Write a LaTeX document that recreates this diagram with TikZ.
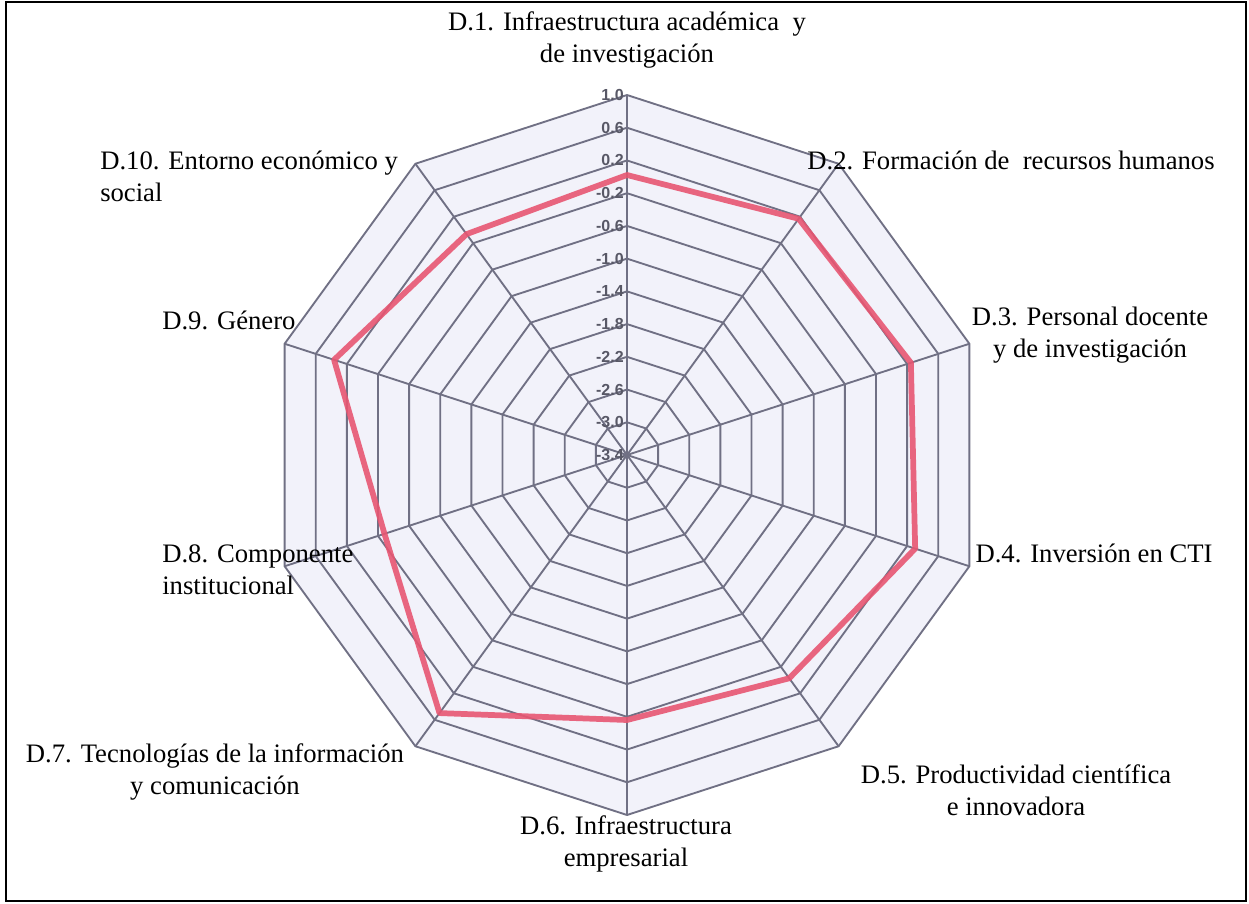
\documentclass[tikz,border=0pt]{standalone}
\usepackage{fontspec}
\setmainfont{Liberation Serif}
\newfontfamily\ticksfont{Liberation Sans}
\definecolor{gridline}{RGB}{112,112,132}
\definecolor{gridfill}{RGB}{242,242,250}
\definecolor{trace}{RGB}{232,86,114}
\definecolor{ticktext}{RGB}{88,88,102}
\begin{document}
\begin{tikzpicture}[x=0.75pt,y=-0.75pt,
  lab/.style={inner sep=0pt, font=\fontsize{20}{24}\selectfont},
  ring/.style={draw=gridline, line width=1.4pt, line join=miter},
  spoke/.style={draw=gridline, line width=1.4pt},
  ticklab/.style={inner sep=0pt, anchor=east, text=ticktext, font=\ticksfont\bfseries\fontsize{12}{14}\selectfont},
  series/.style={draw=trace, line width=4.3pt, line join=round, draw opacity=0.9}]
\useasboundingbox (0,0) rectangle (1249,903);
% outer frame
\draw[line width=1.5pt] (6,2) rectangle (1246,901);
\coordinate (O) at (627,455);
\begin{scope}[shift={(O)}, x=0.75pt, y=0.75pt]
  % plot area
  \fill[gridfill] (90:360) -- (54:360) -- (18:360) -- (-18:360) -- (-54:360) -- (-90:360)
     -- (-126:360) -- (-162:360) -- (162:360) -- (126:360) -- cycle;
  % concentric decagons
  \foreach \k in {1,...,11}{
    \pgfmathsetmacro\rr{\k*360/11}
    \draw[ring] (90:\rr) -- (54:\rr) -- (18:\rr) -- (-18:\rr) -- (-54:\rr) -- (-90:\rr)
      -- (-126:\rr) -- (-162:\rr) -- (162:\rr) -- (126:\rr) -- cycle;
  }
  % radial axes
  \foreach \a in {90,54,18,-18,-54,-90,-126,-162,162,126}{
    \draw[spoke] (0,0) -- (\a:360);
  }
  % axis values
  \foreach \k/\t in {0/-3.4,1/-3.0,2/-2.6,3/-2.2,4/-1.8,5/-1.4,6/-1.0,7/-0.6,8/-0.2,9/0.2,10/0.6,11/1.0}{
    \pgfmathsetmacro\yy{\k*360/11}
    \node[ticklab] (tick\k) at (-3,\yy) {\t};
  }
  % scores
  \draw[series] (90:280) -- (54:292) -- (18:298.5) -- (-18:303) -- (-54:276) -- (-90:265)
    -- (-126:319) -- (-162:255) -- (162:308) -- (126:273) -- cycle;
\end{scope}
% dimension names
\node[lab, align=center] (d1) at (627,40) {D.1. Infraestructura académica \ y\\de investigación};
\node[lab] (d2) at (1011,160) {D.2. Formación de \ recursos humanos};
\node[lab, align=center] (d3) at (1090,335) {D.3. Personal docente\\y de investigación};
\node[lab] (d4) at (1094,553) {D.4. Inversión en CTI};
\node[lab, align=center] (d5) at (1016,790) {D.5. Productividad científica\\e innovadora};
\node[lab, align=center] (d6) at (626,844) {D.6. Infraestructura\\empresarial};
\node[lab, align=center] (d7) at (215,772) {D.7. Tecnologías de la información\\y comunicación};
\node[lab, align=left, anchor=west] (d8) at (162,570) {D.8. Componente\\institucional};
\node[lab, anchor=west] (d9) at (162,320) {D.9. Género};
\node[lab, align=left, anchor=west] (d10) at (100,176) {D.10. Entorno económico y\\social};
\end{tikzpicture}
\end{document}
